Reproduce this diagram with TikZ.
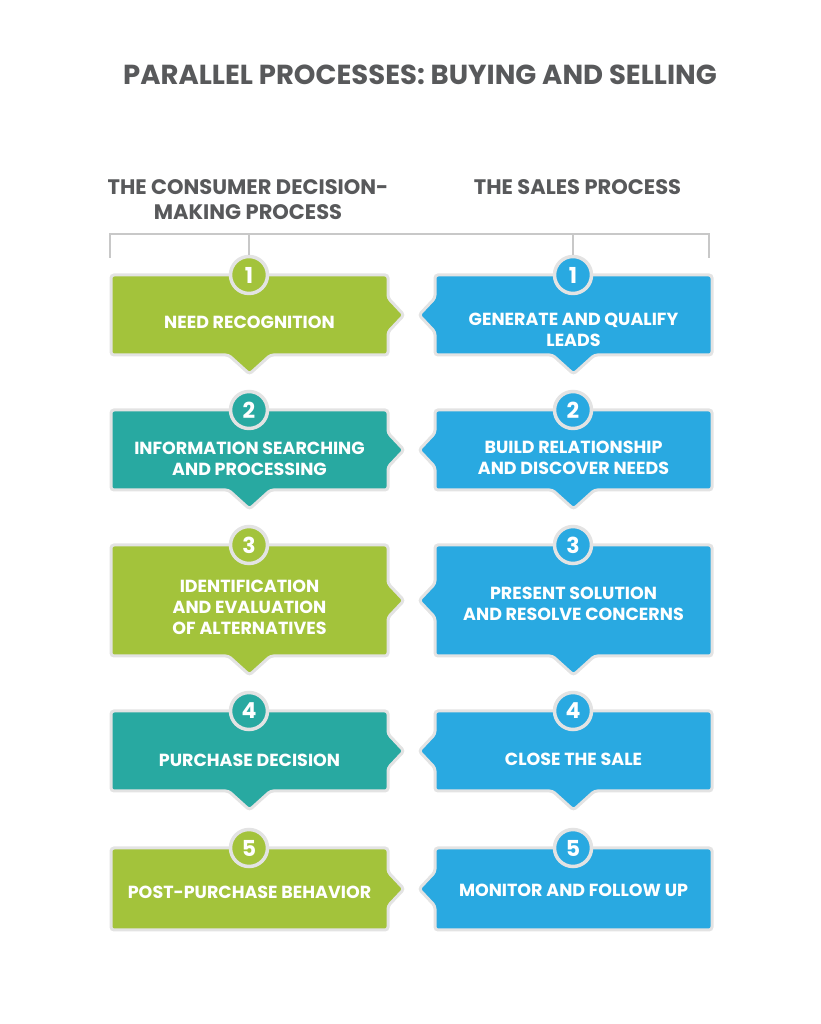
\documentclass[tikz,border=0pt]{standalone}
\usepackage{fontspec}
\setmainfont{Poppins}
\usepackage{xcolor}
\definecolor{leaf}{HTML}{A3C33B}
\definecolor{sea}{HTML}{28A9A1}
\definecolor{sky}{HTML}{29A9E1}
\definecolor{slate}{HTML}{58595B}
\definecolor{rim}{HTML}{E3E3E3}
\definecolor{brace}{HTML}{C8C8C8}
\usetikzlibrary{positioning}
\tikzset{
  card/.style={draw=rim, line width=3pt, rounded corners=3pt},
  lbl/.style={text=white, align=center, font=\fontsize{17.5}{21}\selectfont\bfseries},
  num/.style={circle, draw=rim, line width=3.5pt, minimum size=37pt, inner sep=0pt, text=white, font=\fontsize{22}{22}\selectfont\bfseries},
  head/.style={text=slate, align=center, font=\fontsize{21}{25}\selectfont\bfseries},
  bracket/.style={draw=brace, line width=1.5pt},
}
\begin{document}
\begin{tikzpicture}[x=1pt, y=1pt]
  \useasboundingbox (0,0) rectangle (820,1024);
  \node[head, font=\fontsize{27.5}{30}\selectfont\bfseries] (title) at (420,949) {PARALLEL PROCESSES: BUYING AND SELLING};
  \node[head] (hbuy) at (248,824.5) {THE CONSUMER DECISION-\\MAKING PROCESS};
  \node[head] (hsell) at (577.5,837) {THE SALES PROCESS};
  % cards, left column alternates, right column all sky
  \foreach \cy/\h/\lc/\d in {709/40/leaf/19, 574/40/sea/19, 423.5/55.5/leaf/19, 273/40/sea/19, 135/41/leaf/0} {
    \draw[card, fill=\lc] (111,{\cy+\h}) -- (388,{\cy+\h}) -- (388,{\cy+17}) -- (404,\cy) -- (388,{\cy-17}) -- (388,{\cy-\h}) -- (270.5,{\cy-\h}) -- (249.5,{\cy-\h-\d}) -- (228.5,{\cy-\h}) -- (111,{\cy-\h}) -- cycle;
    \draw[card, fill=sky] (435,{\cy+\h}) -- (712,{\cy+\h}) -- (712,{\cy-\h}) -- (594.5,{\cy-\h}) -- (573.5,{\cy-\h-\d}) -- (552.5,{\cy-\h}) -- (435,{\cy-\h}) -- (435,{\cy-17}) -- (419,\cy) -- (435,{\cy+17}) -- cycle;
  }
  \node[lbl] (l1) at (249.5,702) {NEED RECOGNITION};
  \node[lbl] (l2) at (249.5,565) {INFORMATION SEARCHING\\AND PROCESSING};
  \node[lbl] (l3) at (249.5,416.5) {IDENTIFICATION\\AND EVALUATION\\OF ALTERNATIVES};
  \node[lbl] (l4) at (249.5,264) {PURCHASE DECISION};
  \node[lbl] (l5) at (249.5,132) {POST-PURCHASE BEHAVIOR};
  \node[lbl] (r1) at (573.5,694) {GENERATE AND QUALIFY\\LEADS};
  \node[lbl] (r2) at (573.5,566) {BUILD RELATIONSHIP\\AND DISCOVER NEEDS};
  \node[lbl] (r3) at (573.5,420) {PRESENT SOLUTION\\AND RESOLVE CONCERNS};
  \node[lbl] (r4) at (573.5,265) {CLOSE THE SALE};
  \node[lbl] (r5) at (573.5,134) {MONITOR AND FOLLOW UP};
  \node[num, fill=leaf] (nl1) at (249,749) {1};
  \node[num, fill=sea] (nl2) at (249,614) {2};
  \node[num, fill=leaf] (nl3) at (249,479) {3};
  \node[num, fill=sea] (nl4) at (249,313) {4};
  \node[num, fill=leaf] (nl5) at (249,176) {5};
  \node[num, fill=sky] (nr1) at (573,749) {1};
  \node[num, fill=sky] (nr2) at (573,614) {2};
  \node[num, fill=sky] (nr3) at (573,479) {3};
  \node[num, fill=sky] (nr4) at (573,313) {4};
  \node[num, fill=sky] (nr5) at (573,176) {5};
  \coordinate (bl) at (110,766);
  \coordinate (br) at (709,766);
  \coordinate (top) at (0,790);
  \draw[bracket] (bl) -- (bl |- top) -- (br |- top) -- (br);
  \draw[bracket] (nl1.north) -- (nl1.north |- top);
  \draw[bracket] (nr1.north) -- (nr1.north |- top);
\end{tikzpicture}
\end{document}
